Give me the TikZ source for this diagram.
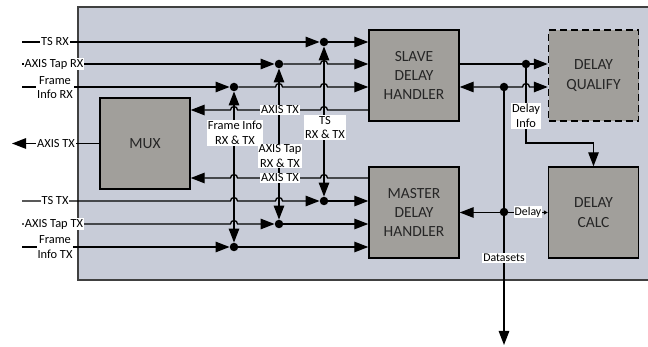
\documentclass[tikz,border=0pt]{standalone}
\usepackage{fontspec}
\setmainfont{Carlito}
\usetikzlibrary{arrows.meta}
\definecolor{outerfill}{HTML}{C8CCD8}
\definecolor{outerline}{HTML}{404040}
\definecolor{blockfill}{HTML}{A19F9B}
\tikzset{
 blk/.style={draw=black, line width=1.4pt, fill=blockfill, minimum width=90pt, minimum height=91pt, inner sep=0pt, align=center, font=\fontsize{15.5}{19.2}\selectfont, text=black!85},
 lbl/.style={fill=white, inner sep=1pt, align=center, font=\fontsize{12.4}{14.8}\selectfont},
 sig/.style={line width=1.3pt, black},
 arr/.style={sig, -{Triangle[length=14pt,width=10.5pt]}},
 arrs/.style={sig, {Triangle[length=14pt,width=10.5pt]}-{Triangle[length=14pt,width=10.5pt]}},
 dot/.style={circle, fill=black, inner sep=0pt, minimum size=8.5pt},
}
\begin{document}
\begin{tikzpicture}[x=1pt,y=-1pt]
\useasboundingbox (0,0) rectangle (648,347);
% outer frame
\fill[outerfill] (78,7) rectangle (648,280);
\draw[outerline, line width=1.6pt] (648,7) -- (78,7) -- (78,280) -- (648,280);

% blocks
\node[blk] (slave) at (414,75.5) {SLAVE\\DELAY\\HANDLER};
\node[blk] (master) at (414,212.5) {MASTER\\DELAY\\HANDLER};
\node[blk, dash pattern=on 7pt off 4pt] (qual) at (593.5,75.5) {DELAY\\QUALIFY};
\node[blk] (calc) at (593.5,212.5) {DELAY\\CALC};
\node[blk] (mux) at (145,143.5) {MUX};

% rows
\coordinate (r1) at (0,42);
\coordinate (r2) at (0,64);
\coordinate (r3) at (0,87);
\coordinate (r4) at (0,110);
\coordinate (r5) at (0,178);
\coordinate (r6) at (0,201);
\coordinate (r7) at (0,224);
\coordinate (r8) at (0,247);

% inputs / outputs
\coordinate (iTR) at (22,42);
\coordinate (iAR) at (22,64);
\coordinate (iFR) at (22,87);
\coordinate (iTT) at (22,201);
\coordinate (iAT) at (22,224);
\coordinate (iFT) at (22,247);
\coordinate (oAX) at (12,143.5);
\coordinate (bend) at (526,143);
\coordinate (dsEnd) at (504,345);

% junction dots
\node[dot] (dTR) at (324,42) {};
\node[dot] (dAR) at (279,64) {};
\node[dot] (dFR) at (234,87) {};
\node[dot] (dTT) at (324,201) {};
\node[dot] (dAT) at (279,224) {};
\node[dot] (dFT) at (234,247) {};
\node[dot] (dDI) at (526,64) {};
\node[dot] (dDS) at (504,87) {};
\node[dot] (dDL) at (504,212) {};

% vertical buses
\draw[arrs] (dFR) -- (dFT);
\draw[arrs] (dAR) -- (dAT);
\draw[arrs] (dTR) -- (dTT);

% RX side
\draw[arr] (iTR) -- (dTR);
\draw[arr] (dTR) -- (slave.west |- r1);
\draw[arr] (iAR) -- (dAR);
\draw[arr] (dAR) -- (320.5,64) arc[start angle=180,end angle=0,radius=3.5pt] -- (slave.west |- r2);
\draw[arr] (iFR) -- (dFR);
\draw[arr] (dFR) -- (275.5,87) arc[start angle=180,end angle=0,radius=3.5pt]
  -- (320.5,87) arc[start angle=180,end angle=0,radius=3.5pt] -- (slave.west |- r3);
\draw[arr] (slave.west |- r4) -- (327.5,110) arc[start angle=0,end angle=180,radius=3.5pt]
  -- (237.5,110) arc[start angle=0,end angle=180,radius=3.5pt] -- (mux.east |- r4);

% TX side
\draw[arr] (master.west |- r5) -- (327.5,178) arc[start angle=0,end angle=180,radius=3.5pt]
  -- (237.5,178) arc[start angle=0,end angle=180,radius=3.5pt] -- (mux.east |- r5);
\draw[arr] (iTT) -- (230.5,201) arc[start angle=180,end angle=0,radius=3.5pt]
  -- (275.5,201) arc[start angle=180,end angle=0,radius=3.5pt] -- (dTT);
\draw[arr] (dTT) -- (master.west |- r6);
\draw[arr] (iAT) -- (230.5,224) arc[start angle=180,end angle=0,radius=3.5pt] -- (dAT);
\draw[arr] (dAT) -- (master.west |- r7);
\draw[arr] (iFT) -- (dFT);
\draw[arr] (dFT) -- (master.west |- r8);

% MUX output
\draw[arr] (mux.west) -- (oAX);

% right side
\draw[sig] (slave.east |- r2) -- (dDI);
\draw[arr] (dDI) -- (qual.west |- r2);
\draw[arrs] (slave.east |- r3) -- (522.5,87) arc[start angle=180,end angle=0,radius=3.5pt] -- (qual.west |- r3);
\draw[arr] (dDI) -- (bend) -| (calc.north);
\draw[arr] (dDS) -- (dsEnd);
\draw[sig, {Triangle[length=4pt,width=4pt]}-{Triangle[length=14pt,width=10.5pt]}] (calc.west) -- (master.east);

% labels
\node[lbl] (lTR) at (55,42) {TS RX};
\node[lbl] (lAR) at (54,64) {AXIS Tap RX};
\node[lbl] (lFR) at (55,87.5) {Frame\\Info RX};
\node[lbl] (lAX) at (56,143.5) {AXIS TX};
\node[lbl] (lTT) at (55,201) {TS TX};
\node[lbl] (lAT) at (54,224) {AXIS Tap TX};
\node[lbl] (lFT) at (55,247) {Frame\\Info TX};
\node[lbl] (lM1) at (280,110) {AXIS TX};
\node[lbl] (lM2) at (280,178) {AXIS TX};
\node[lbl] (lFB) at (235,133) {Frame Info\\RX \& TX};
\node[lbl] (lTB) at (325,127.5) {TS\\RX \& TX};
\node[lbl] (lAB) at (280,156) {AXIS Tap\\RX \& TX};
\node[lbl] (lDI) at (526,116) {Delay\\Info};
\node[lbl, font=\fontsize{11.8}{14}\selectfont] (lDL) at (528,212) {Delay};
\node[lbl, font=\fontsize{11.8}{14}\selectfont] (lDS) at (504,258) {Datasets};
\end{tikzpicture}
\end{document}
